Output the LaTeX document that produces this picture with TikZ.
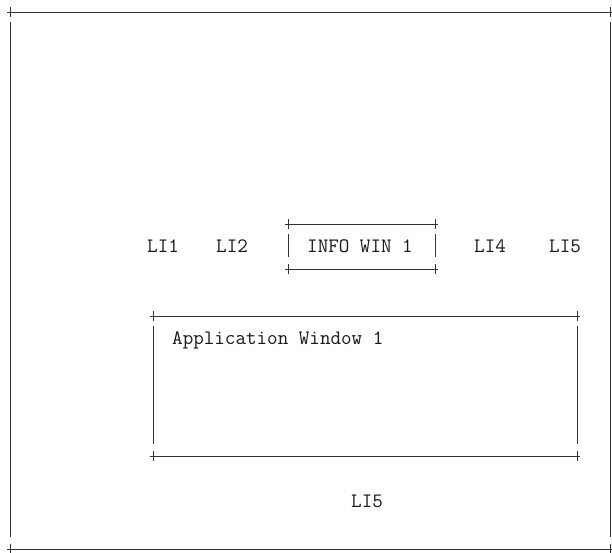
\documentclass[tikz,border=0pt]{standalone}
\tikzset{
  frameline/.style={draw=black!80, line width=0.7pt},
  lbl/.style={anchor=base west, inner sep=0pt, font=\fontsize{20.5}{24}\selectfont\ttfamily, text=black!90},
}
% #1 left x, #2 top y, #3 right x, #4 bottom y
\newcommand\charbox[4]{%
  \draw[frameline] (#1-3,#2) -- (#3+3,#2);
  \draw[frameline] (#1-3,#4) -- (#3+3,#4);
  \draw[frameline] (#1,#2-5) -- (#1,#2+5);
  \draw[frameline] (#3,#2-5) -- (#3,#2+5);
  \draw[frameline] (#1,#4-5) -- (#1,#4+5);
  \draw[frameline] (#3,#4-5) -- (#3,#4+5);
  \draw[frameline] (#1,#2+10) -- (#1,#4-12);
  \draw[frameline] (#3,#2+10) -- (#3,#4-12);
}
\begin{document}
\begin{tikzpicture}[x=1pt,y=-1pt]
\useasboundingbox[fill=white] (0,0) rectangle (612,553);
% outer frame
\charbox{10}{12}{610}{549}
% info window
\charbox{288}{224}{435}{269}
% application window
\charbox{153}{316}{577}{456}
% labels
\node[lbl] (li1) at (147,252) {LI1};
\node[lbl] (li2) at (216,252) {LI2};
\node[lbl] (info) at (307,252) {INFO WIN 1};
\node[lbl] (li4) at (474,252) {LI4};
\node[lbl] (li5a) at (549,252) {LI5};
\node[lbl] (app) at (172,344) {Application Window 1};
\node[lbl] (li5b) at (351,507) {LI5};
\end{tikzpicture}
\end{document}
